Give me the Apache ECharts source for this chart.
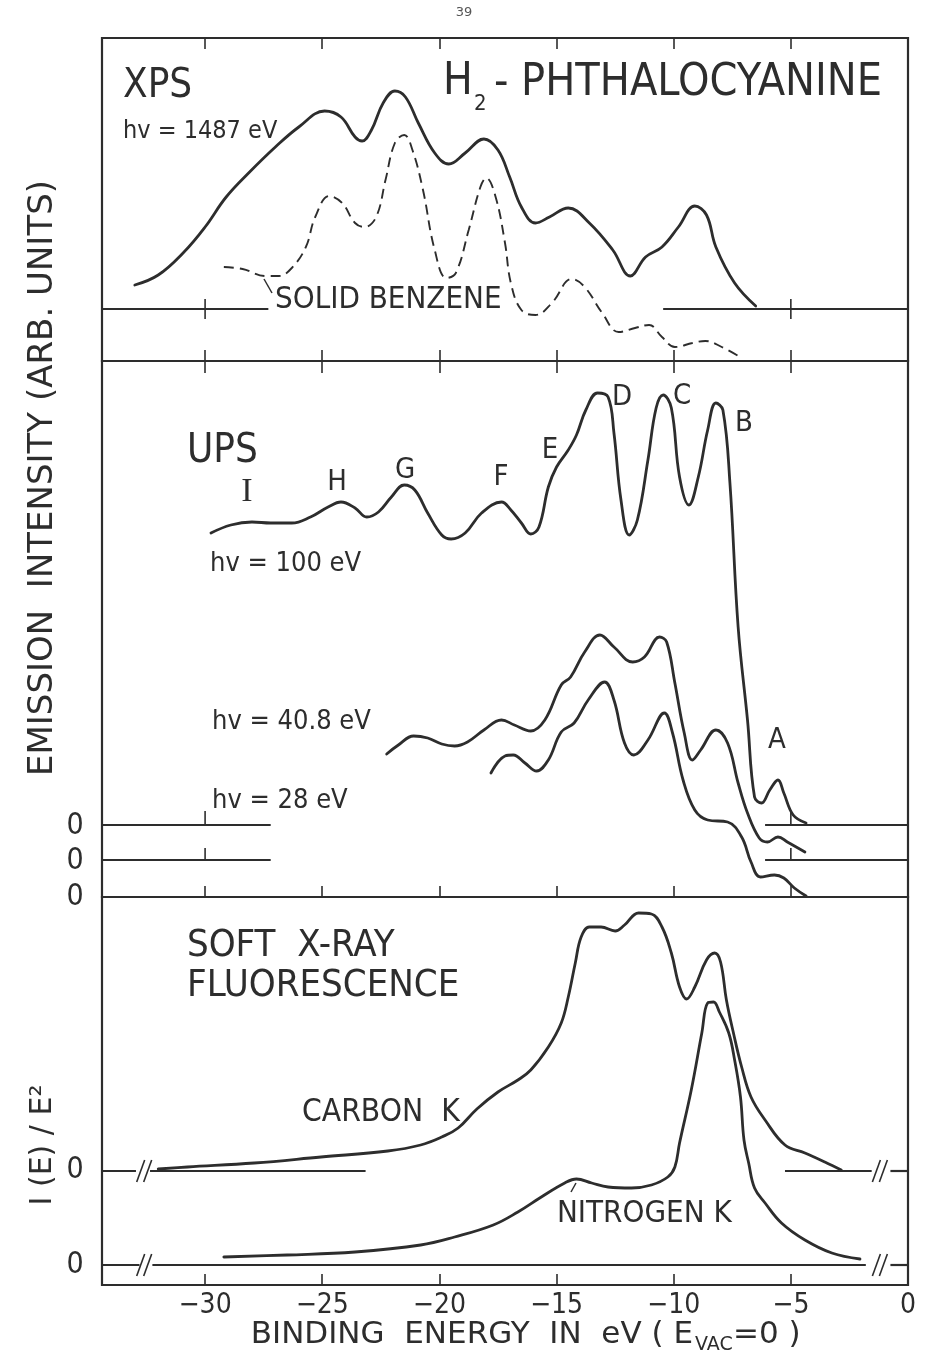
<!DOCTYPE html>
<html>
<head>
<meta charset="utf-8">
<script src="https://cdn.jsdelivr.net/npm/echarts@6/dist/echarts.min.js"></script>
<style>
  html, body { margin: 0; padding: 0; background: #fff; }
  #chart { width: 928px; height: 1354px; }
</style>
</head>
<body>
<div id="chart"></div>
<script>
// H2-phthalocyanine valence band: XPS, UPS and soft X-ray fluorescence spectra
// x: binding energy in eV (E_VAC = 0); y: intensity in arbitrary units.

// ---- XPS, hv = 1487 eV ----
const xpsEnergy = [-33.0,-32.0,-30.9,-30.0,-29.1,-28.1,-27.0,-26.0,-24.9,-24.2,-23.6,-23.3,-22.9,-22.4,-21.9,-21.45,-20.9,-20.2,-19.6,-18.9,-18.1,-17.5,-17.0,-16.5,-15.9,-15.3,-14.5,-13.6,-12.6,-11.85,-11.2,-10.5,-9.8,-9.1,-8.6,-8.2,-7.4,-6.5];
const xpsIntensity = [2.4,3.4,5.7,8.2,11.2,13.7,16.2,18.2,19.8,19.2,17.2,16.8,17.9,20.6,21.8,21.2,18.6,15.6,14.5,15.6,17.0,15.9,13.2,10.2,8.6,9.2,10.1,8.6,5.9,3.3,5.2,6.2,8.2,10.3,9.4,6.2,2.6,0.3];

// ---- Solid benzene (XPS, dashed) ----
const benzeneEnergy = [-29.2,-28.4,-27.4,-26.85,-26.3,-25.7,-25.3,-24.7,-24.15,-23.6,-23.2,-22.7,-22.3,-21.9,-21.5,-21.15,-20.7,-20.2,-19.7,-19.3,-18.75,-18.25,-18.0,-17.6,-17.2,-16.95,-16.5,-15.9,-15.2,-14.35,-13.8,-13.05,-12.35,-11.65,-11.05,-10.5,-9.95,-9.2,-8.65,-7.95,-7.1];
const benzeneIntensity = [9.4,9.2,8.5,8.5,9.3,11.4,14.4,16.5,15.8,13.8,13.4,14.4,18.1,21.8,22.6,21.1,17.1,11.1,8.3,8.8,13.1,17.4,18.3,16.4,11.8,7.8,5.1,4.6,5.8,8.2,7.4,4.8,2.9,3.3,3.6,2.4,1.4,1.8,2.0,1.4,0.3];

// ---- UPS, hv = 100 eV ----
const ups100Energy = [-29.75,-28.9,-28.0,-27.2,-26.3,-25.5,-24.75,-24.2,-23.6,-23.1,-22.6,-22.05,-21.5,-21.05,-20.5,-19.9,-19.5,-18.9,-18.2,-17.35,-16.95,-16.5,-16.1,-15.75,-15.35,-15.0,-14.5,-14.15,-13.75,-13.25,-12.8,-12.55,-12.25,-11.9,-11.55,-11.1,-10.75,-10.45,-10.1,-9.75,-9.35,-8.95,-8.55,-8.2,-7.9,-7.6,-7.25,-6.85,-6.55,-6.25,-5.9,-5.55,-5.3,-4.9,-4.35];
const ups100Intensity = [29.2,30.0,30.3,30.2,30.2,30.8,31.8,32.3,31.7,30.8,31.3,32.8,34.0,33.5,31.2,29.0,28.6,29.2,31.2,32.3,31.5,30.2,29.1,29.8,33.8,35.8,37.5,39.0,41.5,43.2,42.8,39.2,32.5,29.0,30.5,36.5,41.7,43.0,41.7,34.8,32.0,34.8,39.5,42.2,41.5,34.2,19.8,10.5,2.8,2.2,3.5,4.5,3.2,1.0,0.2];

// ---- UPS, hv = 40.8 eV ----
const ups408Energy = [-22.25,-21.75,-21.1,-20.5,-19.9,-19.35,-18.8,-18.1,-17.35,-16.8,-16.1,-15.5,-14.8,-14.4,-13.8,-13.15,-12.55,-11.75,-11.25,-10.6,-10.3,-9.95,-9.55,-9.2,-8.85,-8.2,-7.7,-7.25,-6.85,-6.35,-6.0,-5.55,-5.15,-4.4];
const ups408Intensity = [10.6,11.5,12.4,12.2,11.6,11.4,11.8,13.0,14.0,13.5,12.9,14.0,17.5,18.3,20.8,22.5,21.3,19.8,20.3,22.3,21.8,17.7,12.7,10.0,11.0,13.0,11.7,7.7,4.7,2.2,1.8,2.3,1.8,0.8];

// ---- UPS, hv = 28 eV ----
const ups28Energy = [-17.8,-17.2,-16.85,-16.35,-15.85,-15.35,-14.8,-14.25,-13.65,-12.95,-12.55,-12.1,-11.7,-11.1,-10.4,-10.05,-9.6,-9.1,-8.55,-7.7,-7.1,-6.7,-6.3,-5.7,-5.3,-4.85,-4.35];
const ups28Intensity = [12.4,14.1,14.2,13.4,12.6,13.7,16.5,17.4,19.7,21.5,19.7,15.4,14.2,15.7,18.4,16.4,11.7,8.7,7.7,7.5,6.0,3.5,2.0,2.2,1.9,0.9,0.1];

// ---- Soft X-ray fluorescence, carbon K ----
const carbonEnergy = [-32.0,-30.75,-27.9,-25.05,-22.2,-20.8,-19.9,-19.2,-18.4,-17.5,-16.65,-16.1,-15.35,-14.8,-14.5,-14.2,-13.95,-13.6,-13.1,-12.5,-12.1,-11.5,-10.95,-10.5,-10.1,-9.75,-9.45,-9.1,-8.6,-8.25,-8.0,-7.75,-7.45,-7.1,-6.7,-6.1,-5.25,-4.4,-3.55,-2.85];
const carbonIntensity = [0.2,0.4,0.8,1.4,2.0,2.6,3.4,4.3,6.2,7.9,9.1,10.1,12.4,14.8,17.4,20.8,23.4,24.4,24.4,24.0,24.6,25.8,25.7,24.4,21.8,18.4,17.2,18.4,21.1,21.8,20.9,17.1,13.8,10.4,7.4,5.1,2.6,1.8,0.9,0.1];

// ---- Soft X-ray fluorescence, nitrogen K ----
const nitrogenEnergy = [-29.2,-26.5,-23.6,-20.8,-19.35,-17.7,-16.65,-15.65,-14.65,-14.15,-13.5,-12.8,-11.8,-10.95,-10.25,-9.95,-9.75,-9.25,-8.8,-8.55,-8.3,-8.05,-7.65,-7.4,-7.15,-7.0,-6.8,-6.55,-6.1,-5.4,-4.4,-3.25,-2.05];
const nitrogenIntensity = [0.8,1.0,1.3,2.0,2.8,4.0,5.3,6.8,8.2,8.6,8.2,7.8,7.7,8.0,8.8,9.8,12.2,17.5,23.2,26.2,26.3,25.3,23.2,20.5,16.8,12.5,10.2,7.7,6.2,4.2,2.5,1.2,0.6];

// ---- Axis ----
const energyTicks = [-30, -25, -20, -15, -10, -5];
const energyTickLabels = [-30, -25, -20, -15, -10, -5, 0];
const ENERGY_MIN = -34.4;
const ENERGY_MAX = 0;

// Vertical offsets of the stacked spectra (arbitrary units)
const XPS_ZERO = 0;
const BENZENE_ZERO = -5.2;
const UPS100_ZERO = 7.2;
const UPS408_ZERO = 3.7;
const UPS28_ZERO = 0;
const CARBON_ZERO = 9.4;
const NITROGEN_ZERO = 0;

// Drawn pieces of each zero line: [from, to] in eV
const xpsZeroSegments = [[ENERGY_MIN, -27.3], [-10.45, ENERGY_MAX]];
const ups100ZeroSegments = [[ENERGY_MIN, -27.2], [-6.1, ENERGY_MAX]];
const ups408ZeroSegments = [[ENERGY_MIN, -27.2], [-6.1, ENERGY_MAX]];
const carbonZeroSegments = [[ENERGY_MIN, -32.95], [-32.35, -23.15], [-5.25, -1.55], [-0.75, ENERGY_MAX]];
const nitrogenZeroSegments = [[ENERGY_MIN, -32.8], [-32.25, -1.8], [-0.75, ENERGY_MAX]];
const axisBreaks = [-32.6, -1.2];
const zeroLineTicks = [-30, -5];

const INK = '#2d2d2d';
const FONT = "'DejaVu Sans', sans-serif";
const FONT_COND = "'DejaVu Sans Condensed', 'DejaVu Sans', sans-serif";
const FONT_SERIF = "'Liberation Serif', 'DejaVu Serif', serif";

function zip(xs, ys, off) {
  return xs.map((x, i) => [x, ys[i] + off]);
}

function curve(name, xs, ys, off, axis, dashed) {
  return {
    name, type: 'line', xAxisIndex: axis[0], yAxisIndex: axis[1],
    data: zip(xs, ys, off), smooth: 0.4, showSymbol: false, silent: true, z: 4,
    lineStyle: dashed
      ? { color: INK, width: 1.9, type: [10, 6] }
      : { color: INK, width: 2.8, cap: 'round', join: 'round' }
  };
}

function segments(list, y, axis) {
  return {
    type: 'custom', xAxisIndex: axis[0], yAxisIndex: axis[1], silent: true, z: 3,
    data: list.map(s => [s[0], s[1], y]),
    renderItem: (params, api) => {
      const a = api.coord([api.value(0), api.value(2)]);
      const b = api.coord([api.value(1), api.value(2)]);
      return { type: 'line', shape: { x1: a[0], y1: a[1], x2: b[0], y2: b[1] },
        style: { stroke: INK, lineWidth: 2.2 } };
    }
  };
}

function ticks(list, y, axis, up, down) {
  return {
    type: 'custom', xAxisIndex: axis[0], yAxisIndex: axis[1], silent: true, z: 3,
    data: list.map(v => [v, y]),
    renderItem: (params, api) => {
      const p = api.coord([api.value(0), api.value(1)]);
      return { type: 'line', shape: { x1: p[0], y1: p[1] - up, x2: p[0], y2: p[1] + down },
        style: { stroke: INK, lineWidth: 1.6 } };
    }
  };
}

function breaks(list, y, axis) {
  return {
    type: 'custom', xAxisIndex: axis[0], yAxisIndex: axis[1], silent: true, z: 3,
    data: list.map(v => [v, y]),
    renderItem: (params, api) => {
      const p = api.coord([api.value(0), api.value(1)]);
      const mk = dx => ({ type: 'line',
        shape: { x1: p[0] + dx - 4, y1: p[1] + 11, x2: p[0] + dx + 4, y2: p[1] - 11 },
        style: { stroke: INK, lineWidth: 1.6 } });
      return { type: 'group', children: [mk(-3.5), mk(3.5)] };
    }
  };
}

function xAxis(grid, position, tickLen, showTicks, withLabels) {
  return {
    type: 'value', gridIndex: grid, position, min: ENERGY_MIN, max: ENERGY_MAX,
    axisLine: { show: false, onZero: false }, splitLine: { show: false },
    axisTick: { show: showTicks, inside: true, length: tickLen, customValues: energyTicks,
      lineStyle: { color: INK, width: 1.6 } },
    axisLabel: withLabels ? {
      show: true, customValues: energyTickLabels, margin: 7, color: INK,
      fontSize: 28, fontFamily: FONT_COND,
      formatter: v => v === 0 ? '0' : '\u2212' + Math.abs(v)
    } : { show: false }
  };
}

function txt(text, x, y, size, opts = {}) {
  const align = opts.align || 'left';
  return {
    type: 'text', x, y, rotation: opts.rotation || 0, z: 10, silent: true,
    style: {
      text, fill: opts.color || INK,
      font: `${size}px ${opts.family || FONT}`,
      fontSize: size, fontFamily: opts.family || FONT,
      align, textAlign: align, verticalAlign: 'middle', textVerticalAlign: 'middle'
    }
  };
}

function leader(x1, y1, x2, y2) {
  return { type: 'line', z: 10, silent: true, shape: { x1, y1, x2, y2 },
    style: { stroke: INK, lineWidth: 1.5 } };
}

const TOP = [0, 0], MID = [2, 1], BOT = [4, 2];
const frame = { show: true, borderColor: INK, borderWidth: 2.2, left: 102, right: 20 };
const C = { family: FONT_COND };
const CC = { family: FONT_COND, align: 'center' };

const chart = echarts.init(document.getElementById('chart'));
chart.setOption({
  animation: false,
  backgroundColor: '#fff',
  grid: [
    Object.assign({ top: 38, height: 323 }, frame),
    Object.assign({ top: 361, height: 536 }, frame),
    Object.assign({ top: 897, height: 388 }, frame)
  ],
  xAxis: [
    xAxis(0, 'bottom', 11, true, false),
    xAxis(0, 'top', 11, true, false),
    xAxis(1, 'bottom', 11, true, false),
    xAxis(1, 'top', 12, true, false),
    xAxis(2, 'bottom', 11, true, true)
  ],
  yAxis: [
    { type: 'value', gridIndex: 0, min: -5.2, max: 27.1, show: false },
    { type: 'value', gridIndex: 1, min: 0, max: 53.6, show: false },
    { type: 'value', gridIndex: 2, min: -2.0, max: 36.8, show: false }
  ],
  series: [
    segments(xpsZeroSegments, XPS_ZERO, TOP),
    ticks(zeroLineTicks, XPS_ZERO, TOP, 10, 10),
    curve('XPS', xpsEnergy, xpsIntensity, XPS_ZERO, TOP, false),
    curve('Solid benzene', benzeneEnergy, benzeneIntensity, BENZENE_ZERO, TOP, true),

    segments(ups100ZeroSegments, UPS100_ZERO, MID),
    segments(ups408ZeroSegments, UPS408_ZERO, MID),
    ticks(zeroLineTicks, UPS100_ZERO, MID, 14, 0),
    ticks(zeroLineTicks, UPS408_ZERO, MID, 12, 0),
    curve('UPS 100 eV', ups100Energy, ups100Intensity, UPS100_ZERO, MID, false),
    curve('UPS 40.8 eV', ups408Energy, ups408Intensity, UPS408_ZERO, MID, false),
    curve('UPS 28 eV', ups28Energy, ups28Intensity, UPS28_ZERO, MID, false),

    segments(carbonZeroSegments, CARBON_ZERO, BOT),
    segments(nitrogenZeroSegments, NITROGEN_ZERO, BOT),
    breaks(axisBreaks, CARBON_ZERO, BOT),
    breaks(axisBreaks, NITROGEN_ZERO, BOT),
    curve('Carbon K', carbonEnergy, carbonIntensity, CARBON_ZERO, BOT, false),
    curve('Nitrogen K', nitrogenEnergy, nitrogenIntensity, NITROGEN_ZERO, BOT, false)
  ],
  graphic: [
    txt('39', 464, 13, 13, { align: 'center', color: '#555' }),

    // XPS panel
    txt('XPS', 123, 87, 40, C),
    txt('hv = 1487 eV', 123, 131, 25, C),
    txt('H', 443, 83, 44, C),
    txt('2', 474, 104, 22, C),
    txt('- PHTHALOCYANINE', 882, 83, 44.5, { family: FONT_COND, align: 'right' }),
    txt('SOLID BENZENE', 275, 300, 31, C),
    leader(264, 279, 272, 293),

    // UPS panel
    txt('UPS', 187, 452, 40, C),
    txt('I', 247, 492, 34, { align: 'center', family: FONT_SERIF }),
    txt('H', 337, 482, 29, CC),
    txt('G', 405, 470, 29, CC),
    txt('F', 501, 477, 29, CC),
    txt('E', 550, 450, 29, CC),
    txt('D', 622, 397, 29, CC),
    txt('C', 682, 396, 29, CC),
    txt('B', 744, 423, 29, CC),
    txt('A', 777, 740, 29, CC),
    txt('hv = 100 eV', 210, 564, 27, C),
    txt('hv = 40.8 eV', 212, 722, 27, C),
    txt('hv = 28 eV', 212, 801, 27, C),

    // zero marks on the left
    txt('0', 75, 826, 30, CC),
    txt('0', 75, 861, 30, CC),
    txt('0', 75, 897, 30, CC),
    txt('0', 75, 1170, 30, CC),
    txt('0', 75, 1265, 30, CC),

    // fluorescence panel
    txt('SOFT  X-RAY', 187, 946, 38, C),
    txt('FLUORESCENCE', 187, 986, 38, C),
    txt('CARBON  K', 302, 1113, 31.5, C),
    txt('NITROGEN K', 557, 1214, 31, C),
    leader(571, 1192, 576, 1183),

    // axis titles
    txt('EMISSION  INTENSITY (ARB. UNITS)', 43, 478, 34, { align: 'center', rotation: Math.PI / 2 }),
    txt('I (E) / E\u00B2', 43, 1145, 30, { align: 'center', rotation: Math.PI / 2 }),
    txt('BINDING  ENERGY  IN  eV ( E', 693, 1335, 31, { align: 'right' }),
    txt('VAC', 695, 1345, 19),
    txt('=0 )', 733, 1335, 31)
  ]
});
</script>
</body>
</html>
